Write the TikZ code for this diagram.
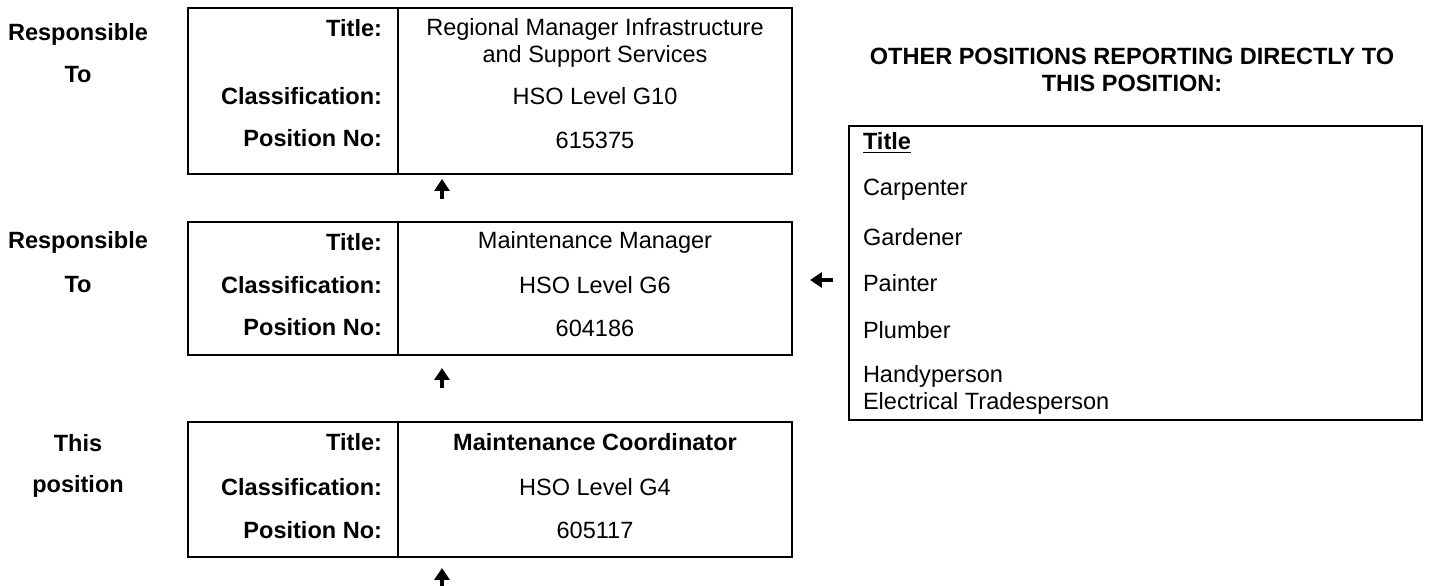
\documentclass[tikz,border=0pt]{standalone}
\usepackage{fontspec}
\setmainfont{Liberation Sans}
\usetikzlibrary{arrows.meta}
\newcommand\fsz{\fontsize{12}{14}\selectfont}
\begin{document}
\begin{tikzpicture}[x=0.51pt,y=-0.51pt,
  every node/.style={inner sep=0pt,outer sep=0pt,font=\fsz},
  box/.style={draw,line width=1.1pt,anchor=north west,minimum width=308.04pt},
  lab/.style={font=\fsz\bfseries,anchor=east},
  val/.style={align=center},
  side/.style={font=\fsz\bfseries},
  item/.style={anchor=west,align=left},
  arr/.style={line width=2pt,-{Triangle[length=6pt,width=7.5pt]}}
]
\useasboundingbox (0,0) rectangle (1429,586);

% boxes
\node[box,minimum height=84.66pt] (b1) at (188,8) {};
\node[box,minimum height=67.83pt] (b2) at (188,222) {};
\node[box,minimum height=68.85pt] (b3) at (188,422) {};
\node[draw,line width=1.1pt,anchor=north west,minimum width=292.23pt,minimum height=149.94pt] (rb) at (849,126) {};

% dividers
\draw[line width=1.1pt] (398,0 |- b1.north) -- (398,0 |- b1.south);
\draw[line width=1.1pt] (398,0 |- b2.north) -- (398,0 |- b2.south);
\draw[line width=1.1pt] (398,0 |- b3.north) -- (398,0 |- b3.south);

% side labels
\node[side] (s1a) at (78,34) {Responsible};
\node[side] (s1b) at (78,75) {To};
\node[side] (s2a) at (78,242) {Responsible};
\node[side] (s2b) at (78,285) {To};
\node[side] (s3a) at (78,443) {This};
\node[side] (s3b) at (78,486) {position};

% box 1
\node[lab] (t1) at (382,28) {Title:};
\node[val] (v1) at (595,43) {Regional Manager Infrastructure\\and Support Services};
\node[lab] (c1) at (382,96) {Classification:};
\node[val] (cv1) at (595,96) {HSO Level G10};
\node[lab] (p1) at (382,138) {Position No:};
\node[val] (pv1) at (595,140) {615375};

% box 2
\node[lab] (t2) at (382,242) {Title:};
\node[val] (v2) at (595,242) {Maintenance Manager};
\node[lab] (c2) at (382,285) {Classification:};
\node[val] (cv2) at (595,285) {HSO Level G6};
\node[lab] (p2) at (382,327) {Position No:};
\node[val] (pv2) at (595,328) {604186};

% box 3
\node[lab] (t3) at (382,442) {Title:};
\node[val,font=\fsz\bfseries] (v3) at (595,442) {Maintenance Coordinator};
\node[lab] (c3) at (382,487) {Classification:};
\node[val] (cv3) at (595,487) {HSO Level G4};
\node[lab] (p3) at (382,530) {Position No:};
\node[val] (pv3) at (595,530) {605117};

% header
\node[font=\fsz\bfseries,align=center] (hd) at (1132,70) {OTHER POSITIONS REPORTING DIRECTLY TO\\THIS POSITION:};

% right list
\node[item,font=\fsz\bfseries] (rt) at (863,143) {\underline{Title}};
\node[item] (r1) at (863,190) {Carpenter};
\node[item] (r2) at (863,237) {Gardener};
\node[item] (r3) at (863,283) {Painter};
\node[item] (r4) at (863,330) {Plumber};
\node[item] (r5) at (863,390) {Handyperson\\Electrical Tradesperson};

% arrows
\coordinate (a1s) at (442,199);
\coordinate (a1e) at (442,179);
\coordinate (a2s) at (442,388);
\coordinate (a2e) at (442,368);
\coordinate (a3s) at (442,586);
\coordinate (a3e) at (442,568);
\coordinate (als) at (833,280);
\coordinate (ale) at (810,280);
\draw[arr] (a1s) -- (a1e);
\draw[arr] (a2s) -- (a2e);
\draw[arr] (a3s) -- (a3e);
\draw[arr] (als) -- (ale);
\end{tikzpicture}
\end{document}
